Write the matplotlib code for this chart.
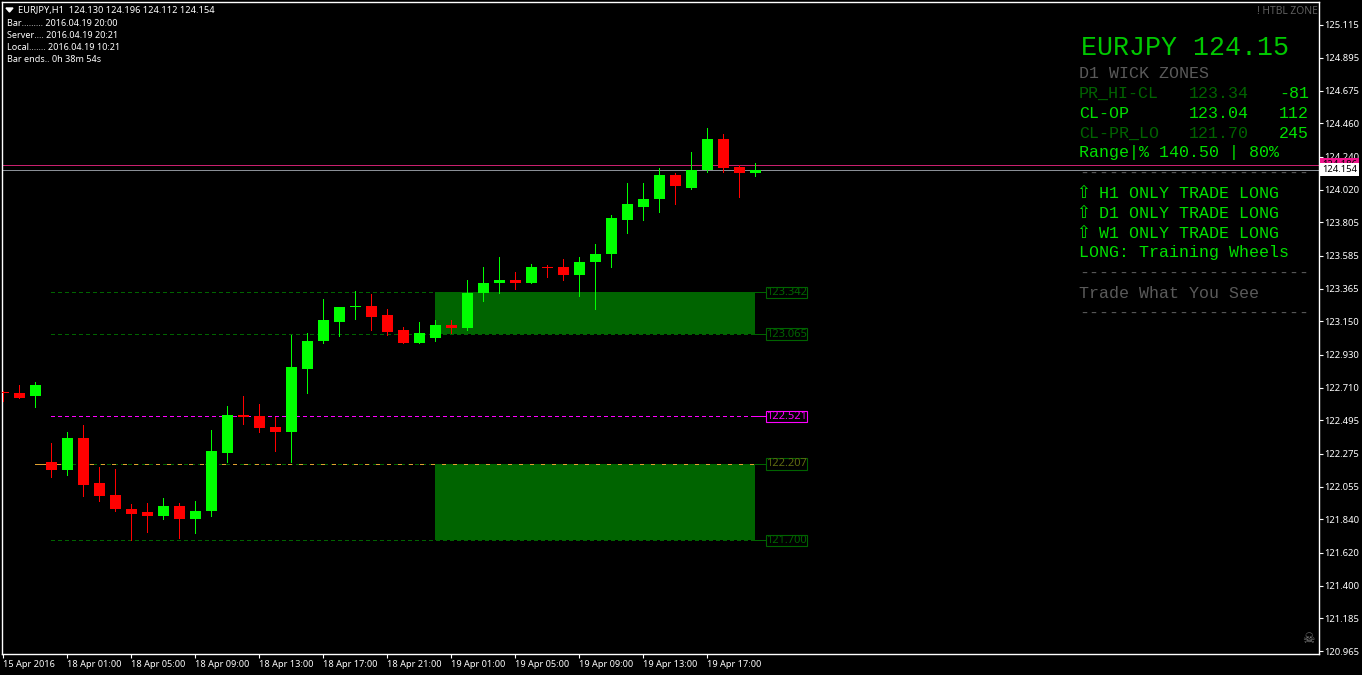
#!/usr/bin/env python3
# -*- coding: utf-8 -*-
import matplotlib
matplotlib.use("Agg")
import numpy as np
import matplotlib.pyplot as plt
from matplotlib.patches import Rectangle

W, H = 1362, 675

opens = [122.678, 122.679, 122.653, 122.216, 122.163, 122.375, 122.077, 122.004,
         121.911, 121.885, 121.859, 121.925, 121.839, 121.892, 122.282, 122.533,
         122.527, 122.454, 122.421, 122.838, 123.017, 123.149, 123.242, 123.255,
         123.189, 123.090, 123.010, 123.037, 123.129, 123.109, 123.341, 123.401,
         123.427, 123.407, 123.507, 123.507, 123.460, 123.540, 123.593, 123.824,
         123.910, 123.957, 124.122, 124.036, 124.149, 124.354, 124.169, 124.130]
highs = [122.692, 122.732, 122.752, 122.342, 122.421, 122.461, 122.189, 122.170,
         121.938, 121.951, 121.978, 121.951, 121.958, 122.434, 122.593, 122.659,
         122.606, 122.520, 123.063, 123.070, 123.301, 123.248, 123.348, 123.334,
         123.235, 123.116, 123.149, 123.162, 123.156, 123.421, 123.507, 123.573,
         123.474, 123.527, 123.520, 123.560, 123.573, 123.659, 123.857, 124.063,
         124.069, 124.162, 124.129, 124.268, 124.433, 124.387, 124.182, 124.196]
lows = [122.620, 122.640, 122.580, 122.117, 122.130, 121.991, 121.958, 121.898,
        121.706, 121.753, 121.839, 121.719, 121.746, 121.865, 122.216, 122.474,
        122.421, 122.289, 122.216, 122.673, 123.004, 123.050, 123.169, 123.096,
        123.057, 123.004, 123.010, 123.023, 123.076, 123.096, 123.282, 123.341,
        123.361, 123.401, 123.447, 123.427, 123.315, 123.235, 123.507, 123.732,
        123.824, 123.877, 123.930, 124.029, 124.142, 124.142, 123.970, 124.112]
closes = [122.674, 122.646, 122.726, 122.163, 122.375, 122.070, 121.997, 121.905,
          121.878, 121.859, 121.925, 121.839, 121.898, 122.289, 122.533, 122.520,
          122.447, 122.421, 122.845, 123.023, 123.156, 123.248, 123.255, 123.182,
          123.083, 123.010, 123.070, 123.129, 123.109, 123.341, 123.407, 123.427,
          123.407, 123.513, 123.500, 123.460, 123.546, 123.599, 123.831, 123.924,
          123.957, 124.122, 124.043, 124.149, 124.354, 124.162, 124.129, 124.154]

price_ticks = [125.115, 124.895, 124.675, 124.460, 124.240, 124.020, 123.805,
               123.585, 123.365, 123.150, 122.930, 122.710, 122.495, 122.275,
               122.055, 121.840, 121.620, 121.400, 121.185, 120.965]
time_ticks = [0, 4, 8, 12, 16, 20, 24, 28, 32, 36, 40, 44]
time_labels = ["15 Apr 2016", "18 Apr 01:00", "18 Apr 05:00", "18 Apr 09:00",
               "18 Apr 13:00", "18 Apr 17:00", "18 Apr 21:00", "19 Apr 01:00",
               "19 Apr 05:00", "19 Apr 09:00", "19 Apr 13:00", "19 Apr 17:00"]

zone_first, zone_last = 27, 47
zones = [(123.065, 123.342), (121.700, 122.207)]
level_values = [123.342, 123.065, 122.521, 122.207, 121.700]
level_colors = ["#006400", "#006400", "#ff00ff", "#006400", "#006400"]
level_texts = ["#006400", "#006400", "#ff00ff", "#5f6a10", "#006400"]
bid, ask = 124.154, 124.186

GREEN = "#00e000"
DARK = "#006400"
GRAY = "#5a5a5a"


def px(x, y):
    return x / W, 1 - y / H


fig = plt.figure(figsize=(W / 100, H / 100), dpi=100, facecolor="black")
ax = fig.add_axes([2 / W, 1 - 654 / H, (1319 - 2) / W, (654 - 2) / H], facecolor="black")
ax.set_xlim((2 - 3.3) / 16, (1319 - 3.3) / 16)
ax.set_ylim(125.2772 - 0.006619 * 654, 125.2772 - 0.006619 * 2)

o = np.array(opens)
h = np.array(highs)
l = np.array(lows)
c = np.array(closes)
xs = np.arange(len(o))
colors = ["#00ff00" if b >= a else "#ff0000" for a, b in zip(o, c)]

# zones
for lo, hi in zones:
    ax.add_patch(Rectangle((zone_first, lo), zone_last - zone_first, hi - lo,
                           facecolor=DARK, edgecolor="none", zorder=1))

# levels with the boxed price at the end
box_x = (786.5 - 3.3) / 16
for v, col, tcol in zip(level_values, level_colors, level_texts):
    ax.plot([3, zone_last], [v, v], color=col, lw=0.72, ls=(0, (3.5, 3.5)), zorder=2,
            antialiased=False)
    ax.plot([zone_last, box_x], [v, v], color=col, lw=0.72, zorder=2, antialiased=False)
    ax.text(box_x, v, "%.3f" % v, color=tcol, fontsize=8.0, family="Noto Sans",
            ha="center", va="center", zorder=5,
            bbox=dict(facecolor="black", edgecolor=col, linewidth=0.8,
                      boxstyle="square,pad=0.03"))
ax.plot([2, zone_last], [122.207, 122.207], color="#e0a030", lw=0.72,
        ls=(0, (3.5, 8)), zorder=2, antialiased=False)
ax.plot([2, 3], [122.207, 122.207], color="#e0a030", lw=0.72, zorder=2, antialiased=False)

# bid/ask
ax.axhline(ask, color="#c8206e", lw=0.72, zorder=2, antialiased=False)
ax.axhline(bid, color="#8a8f96", lw=0.72, zorder=2, antialiased=False)
ytr = ax.get_yaxis_transform()
ax.text(1.0025, ask, "124.186", transform=ytr, color="black", fontsize=6.8,
        family="Noto Sans", ha="left", va="center", clip_on=False, zorder=6,
        bbox=dict(facecolor="#f0148c", edgecolor="none", pad=1.4))
ax.text(1.0025, bid, "124.154", transform=ytr, color="black", fontsize=6.8,
        family="Noto Sans", ha="left", va="center", clip_on=False, zorder=7,
        bbox=dict(facecolor="white", edgecolor="none", pad=1.4))

# candles
ax.vlines(xs, l, h, colors=colors, lw=0.6, zorder=3, antialiased=False)
body = np.maximum(np.abs(c - o), 0.010)
ax.bar(xs, body, bottom=np.minimum(o, c), width=11 / 16, color=colors, linewidth=0,
       zorder=4, antialiased=False)

# axes
for s in ["top", "bottom", "left", "right"]:
    ax.spines[s].set_color("white")
    ax.spines[s].set_linewidth(1.0)
ax.yaxis.tick_right()
ax.set_yticks(price_ticks)
ax.set_yticklabels(["%.3f" % t for t in price_ticks])
ax.set_xticks(time_ticks)
ax.set_xticklabels(time_labels)
ax.tick_params(axis="y", colors="white", length=3, width=0.8, pad=0.6, labelsize=6.8)
ax.tick_params(axis="x", colors="white", length=3, width=0.8, pad=1.5, labelsize=6.6)
for t in ax.get_xticklabels() + ax.get_yticklabels():
    t.set_family("Noto Sans")
for t in ax.get_xticklabels():
    t.set_ha("left")

# top left info
fig.text(*px(18, 10), "EURJPY,H1  124.130 124.196 124.112 124.154", color="white",
         fontsize=6.7, family="Noto Sans", va="center")
fig.add_artist(plt.Polygon([px(6, 8), px(13, 8), px(9.5, 12)], closed=True,
                           color="white", transform=fig.transFigure))
info = ["Bar......... 2016.04.19 20:00", "Server.... 2016.04.19 20:21",
        "Local....... 2016.04.19 10:21", "Bar ends.. 0h 38m 54s"]
for txt, y in zip(info, [23, 35, 47, 59]):
    fig.text(*px(7, y), txt, color="white", fontsize=6.5, family="Noto Sans", va="center")

fig.text(*px(1318, 11), "! HTBL ZONE", color="#5f5f5f", fontsize=7.4, family="Noto Sans",
         weight="bold", ha="right", va="center")
fig.text(*px(1308, 639), "\u2620", color="#808080", fontsize=10, family="DejaVu Sans",
         ha="center", va="center")


# right panel, courier type
def mono(x, y, txt, col, size=12.0):
    fig.text(*px(x, y + 1), txt, color=col, fontsize=size, family="Liberation Mono", va="center")


mono(1081, 47, "EURJPY 124.15", "#00c800", 19.2)
mono(1079, 72, "D1 WICK ZONES", GRAY)
mono(1079, 92, "PR_HI-CL", DARK)
mono(1189, 92, "123.34", DARK)
mono(1279, 92, "-81", GREEN)
mono(1079, 112, "CL-OP", GREEN)
mono(1189, 112, "123.04", GREEN)
mono(1279, 112, "112", GREEN)
mono(1079, 132, "CL-PR_LO", DARK)
mono(1189, 132, "121.70", DARK)
mono(1279, 132, "245", GREEN)
mono(1079, 152, "Range|% 140.50 | 80%", GREEN)
mono(1079, 172, "-" * 23, GRAY)
for y, txt in zip([192, 212, 232], ["H1", "D1", "W1"]):
    fig.text(*px(1083, y + 1), "\u21e7", color=GREEN, fontsize=12, family="DejaVu Sans",
             ha="center", va="center")
    mono(1099, y, txt + " ONLY TRADE LONG", GREEN)
mono(1079, 252, "LONG: Training Wheels", GREEN)
mono(1079, 272, "-" * 23, GRAY)
mono(1079, 292, "Trade What You See", GRAY)
mono(1079, 312, "-" * 23, GRAY)

fig.savefig("out.png", dpi=100, facecolor="black")
